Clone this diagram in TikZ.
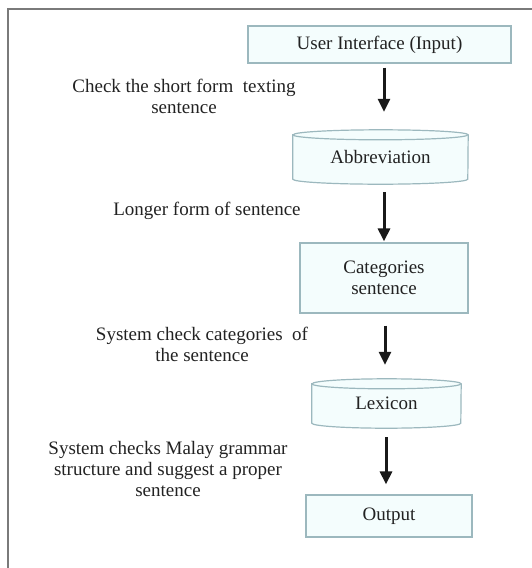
\documentclass[tikz,border=0pt]{standalone}
\usepackage{fontspec}
\setmainfont{Liberation Serif}
\usetikzlibrary{arrows.meta,calc}
\pgfdeclarelayer{background}
\pgfsetlayers{background,main}
\definecolor{boxline}{HTML}{9CB8BE}
\definecolor{boxfill}{HTML}{F4FDFD}
\definecolor{frameline}{HTML}{7A7A7A}
\definecolor{txt}{HTML}{222222}
\tikzset{
 base/.style={font=\fontsize{19}{21}\selectfont, text=txt, align=center, inner sep=0pt},
 procbox/.style={base, draw=boxline, line width=1.2pt, fill=boxfill},
 storebox/.style={base},
 lbl/.style={base},
 flow/.style={line width=3pt, -{Triangle[width=12pt,length=13pt]}, black!90},
 cylline/.style={draw=boxline, line width=1.2pt, fill=boxfill},
 frame/.style={draw=frameline, line width=2pt}
}
\newcommand\cylshape[3]{%
 \begin{pgfonlayer}{background}
 \draw[cylline] ([yshift=-#3]#1.north west) -- ([yshift=#3]#1.south west)
   arc[start angle=180,end angle=360,x radius=#2,y radius=#3]
   -- ([yshift=-#3]#1.north east)
   arc[start angle=0,end angle=180,x radius=#2,y radius=#3] -- cycle;
 \draw[cylline, fill=none] ([yshift=-#3]#1.north west)
   arc[start angle=180,end angle=360,x radius=#2,y radius=#3];
 \end{pgfonlayer}}
\begin{document}
\begin{tikzpicture}[x=1pt,y=1pt]
\useasboundingbox (0,0) rectangle (532,-568);
\coordinate (ftl) at (8,-9);
\coordinate (ftr) at (532,-9);
\coordinate (fbl) at (8,-568);
\draw[frame] (ftr) -- (ftl) -- (fbl);

\node[procbox, minimum width=263pt, minimum height=37pt] (ui) at (379.5,-44.5) {User Interface (Input)};
\node[storebox, minimum width=175pt, minimum height=54pt] (abbr) at (380.5,-157) {Abbreviation};
\cylshape{abbr}{87.5pt}{5pt}
\node[procbox, minimum width=168pt, minimum height=70pt] (cat) at (384,-278) {Categories\\sentence};
\node[storebox, minimum width=149pt, minimum height=49pt] (lex) at (386.5,-403.5) {Lexicon};
\cylshape{lex}{74.5pt}{5pt}
\node[procbox, minimum width=166pt, minimum height=42pt] (out) at (389,-516) {Output};

\draw[flow] ([xshift=4.5pt,yshift=-4pt]ui.south) -- ([xshift=4.5pt,yshift=18pt]ui.south |- abbr.north);
\draw[flow] ([xshift=3.5pt,yshift=-8pt]abbr.south) -- ([xshift=3.5pt,yshift=1pt]abbr.south |- cat.north);
\draw[flow] ([xshift=1pt,yshift=-12pt]cat.south) -- ([xshift=1pt,yshift=14pt]cat.south |- lex.north);
\draw[flow] ([xshift=-0.5pt,yshift=-9pt]lex.south) -- ([xshift=-0.5pt,yshift=10pt]lex.south |- out.north);

\node[lbl] (l1) at (184,-96) {Check the short form\ \ texting\\sentence};
\node[lbl] (l2) at (207,-211) {Longer form of sentence};
\node[lbl] (l3) at (202,-344.5) {System check categories\ \ of\\the sentence};
\node[lbl] (l4) at (168,-468.5) {System checks Malay grammar\\structure and suggest a proper\\sentence};
\end{tikzpicture}
\end{document}
